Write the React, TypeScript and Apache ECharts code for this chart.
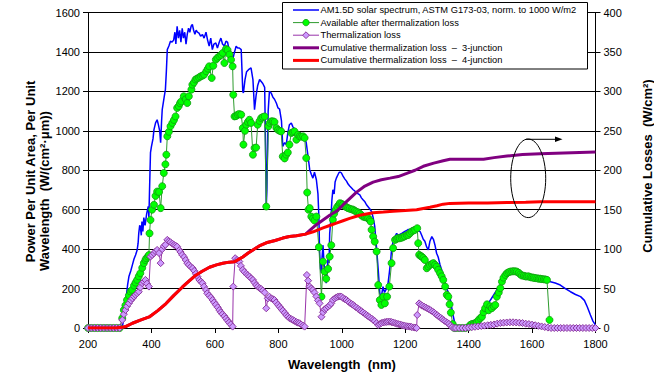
import React, { useEffect, useRef } from "react";
import * as echarts from "echarts";

// AM1.5D spectrum [wavelength nm, W/(cm2 um)]
const spectrum: number[][] = [
  [200, 0], [250, 0], [300, 0], [305, 0], [310, 20], [315, 80], [320, 150], [325, 220], [329, 261], [335, 290],
  [340, 320], [345, 350], [350, 370], [355, 396], [358, 430], [360, 480], [363, 520], [365, 515], [368, 470],
  [370, 540], [373, 490], [376, 560], [380, 520], [385, 580], [390, 616], [392, 560], [394, 700], [397, 889],
  [400, 920], [405, 960], [408, 1006], [413, 1040], [418, 1056], [422, 1030], [426, 1000], [429, 940],
  [432, 1050], [434, 1107], [440, 1170], [444, 1209], [447, 1300], [450, 1412], [455, 1430], [460, 1454],
  [465, 1450], [470, 1460], [474, 1500], [477, 1440], [481, 1530], [485, 1470], [489, 1510], [493, 1450],
  [497, 1520], [501, 1470], [505, 1500], [509, 1440], [513, 1490], [517, 1520], [521, 1500], [525, 1530],
  [529, 1539], [533, 1510], [537, 1490], [541, 1510], [545, 1500], [550, 1495], [555, 1480], [561, 1488],
  [566, 1470], [572, 1500], [577, 1460], [582, 1430], [587, 1470], [592, 1412], [597, 1440], [603, 1446],
  [608, 1420], [614, 1450], [619, 1470], [624, 1440], [630, 1430], [635, 1454], [640, 1450], [646, 1400],
  [651, 1380], [656, 1360], [662, 1400], [667, 1429], [672, 1420], [677, 1420], [683, 1412], [688, 1200],
  [690, 1192], [695, 1260], [700, 1300], [706, 1310], [714, 1319], [720, 1260], [725, 1107], [730, 1180],
  [735, 1230], [741, 1260], [746, 1250], [751, 1240], [757, 1220], [760, 900], [762, 616], [764, 700],
  [768, 1100], [772, 1200], [778, 1190], [783, 1170], [788, 1160], [794, 1140], [799, 1116], [804, 1110],
  [810, 1050], [814, 921], [820, 940], [825, 930], [830, 990], [835, 1031], [841, 1040], [846, 1020],
  [851, 1010], [857, 990], [862, 985], [867, 975], [872, 980], [878, 972], [883, 960], [888, 940], [893, 880],
  [899, 803], [904, 780], [909, 760], [914, 790], [920, 752], [925, 680], [928, 560], [930, 396], [933, 300],
  [936, 280], [938, 360], [941, 420], [944, 330], [947, 280], [951, 227], [954, 300], [957, 360], [960, 330],
  [962, 480], [966, 560], [969, 650], [972, 701], [976, 680], [979, 740], [983, 760], [988, 777], [992, 790],
  [996, 790], [999, 786], [1004, 770], [1010, 755], [1015, 745], [1020, 730], [1025, 720], [1031, 710],
  [1036, 701], [1041, 695], [1046, 688], [1052, 680], [1057, 675], [1062, 660], [1067, 650], [1073, 640],
  [1078, 625], [1083, 615], [1088, 605], [1094, 591], [1099, 560], [1104, 515], [1110, 400], [1115, 295],
  [1120, 176], [1125, 160], [1130, 210], [1135, 180], [1141, 200], [1146, 227], [1150, 280], [1154, 340],
  [1157, 396], [1162, 440], [1168, 464], [1173, 480], [1178, 470], [1183, 475], [1189, 480], [1194, 485],
  [1199, 490], [1205, 495], [1210, 500], [1215, 498], [1220, 505], [1226, 508], [1231, 510], [1236, 506],
  [1241, 495], [1247, 489], [1252, 470], [1257, 450], [1262, 440], [1268, 410], [1273, 396], [1278, 440],
  [1284, 464], [1289, 450], [1294, 420], [1299, 379], [1304, 360], [1310, 320], [1315, 295], [1320, 260],
  [1326, 230], [1331, 200], [1336, 180], [1341, 159], [1346, 110], [1352, 57], [1357, 20], [1362, 0],
  [1400, 0], [1420, 10], [1440, 50], [1460, 120], [1480, 170], [1500, 220], [1515, 270], [1531, 295],
  [1547, 292], [1563, 285], [1579, 270], [1595, 262], [1610, 256], [1626, 248], [1642, 242], [1658, 235],
  [1673, 228], [1689, 218], [1705, 200], [1721, 184], [1737, 170], [1753, 159], [1765, 140], [1774, 108],
  [1784, 66], [1792, 35], [1800, 15],
];

// Available after thermalization loss
const available: number[][] = [
  [200, 0], [210, 0], [220, 0], [230, 0], [240, 0], [250, 0], [260, 0], [270, 0], [280, 0], [290, 0], [300, 0],
  [308, 50], [313, 91], [318, 115], [323, 142], [329, 165], [334, 185], [339, 193], [345, 215], [350, 230],
  [355, 244], [360, 262], [365, 278], [371, 305], [376, 329], [381, 345], [384, 354], [389, 362], [392, 370],
  [394, 480], [397, 548], [402, 600], [408, 625], [413, 670], [418, 692], [424, 690], [429, 608], [434, 719],
  [439, 786], [444, 830], [447, 879], [450, 972], [455, 995], [460, 1023], [466, 1040], [471, 1055],
  [476, 1073], [481, 1116], [486, 1125], [490, 1140], [494, 1149], [502, 1175], [508, 1160], [513, 1141],
  [518, 1175], [526, 1209], [529, 1234], [534, 1245], [539, 1260], [544, 1265], [550, 1270], [555, 1276],
  [561, 1280], [566, 1285], [573, 1302], [578, 1315], [582, 1327], [590, 1268], [595, 1330], [603, 1361],
  [608, 1370], [614, 1378], [620, 1385], [625, 1395], [630, 1344], [635, 1415], [640, 1410], [646, 1387],
  [651, 1360], [656, 1327], [658, 1183], [662, 1073], [667, 1075], [672, 1082], [677, 1085], [683, 1082],
  [688, 1014], [690, 930], [695, 1000], [699, 1031], [704, 1045], [709, 1056], [714, 1040], [720, 879],
  [725, 913], [730, 915], [735, 1031], [741, 1050], [746, 1065], [751, 1070], [757, 1073], [762, 616],
  [769, 1023], [773, 1040], [778, 1048], [783, 1048], [788, 1045], [794, 1014], [799, 1005], [804, 1000],
  [809, 997], [814, 870], [820, 860], [825, 879], [830, 890], [835, 930], [841, 989], [846, 993], [851, 997],
  [857, 955], [862, 980], [867, 972], [872, 970], [878, 972], [883, 964], [888, 862], [891, 687], [895, 600],
  [899, 608], [904, 565], [909, 555], [914, 545], [920, 565], [928, 410], [936, 159], [941, 337], [946, 286],
  [951, 250], [957, 300], [962, 362], [967, 420], [972, 549], [976, 580], [981, 600], [986, 615], [991, 625],
  [994, 633], [999, 630], [1004, 625], [1010, 618], [1015, 612], [1020, 608], [1025, 605], [1031, 602],
  [1036, 600], [1041, 595], [1046, 590], [1052, 586], [1057, 580], [1062, 572], [1067, 565], [1073, 562],
  [1078, 560], [1083, 557], [1088, 548], [1091, 540], [1094, 498], [1099, 464], [1104, 438], [1110, 388],
  [1115, 218], [1120, 142], [1125, 117], [1131, 159], [1136, 125], [1143, 159], [1150, 210], [1157, 329],
  [1162, 405], [1168, 447], [1173, 452], [1178, 456], [1183, 455], [1189, 458], [1194, 462], [1199, 465],
  [1205, 470], [1210, 472], [1215, 480], [1220, 489], [1226, 494], [1231, 498], [1238, 506], [1241, 430],
  [1244, 371], [1249, 365], [1252, 362], [1257, 355], [1262, 345], [1268, 303], [1273, 312], [1278, 320],
  [1284, 325], [1289, 329], [1294, 320], [1299, 311], [1304, 295], [1310, 278], [1315, 262], [1320, 244],
  [1326, 210], [1331, 168], [1336, 159], [1340, 120], [1344, 78], [1350, 20], [1355, 0], [1360, 0], [1370, 0],
  [1380, 0], [1390, 0], [1400, 5], [1405, 15], [1410, 20], [1416, 22], [1421, 24], [1426, 30], [1431, 40],
  [1437, 50], [1442, 57], [1447, 80], [1452, 100], [1458, 120], [1463, 90], [1468, 110], [1473, 100],
  [1479, 110], [1484, 117], [1489, 159], [1495, 180], [1500, 202], [1505, 235], [1510, 255], [1516, 269],
  [1521, 278], [1526, 283], [1531, 286], [1537, 287], [1542, 288], [1547, 287], [1552, 286], [1558, 280],
  [1563, 272], [1568, 266], [1574, 265], [1579, 262], [1584, 261], [1589, 262], [1595, 258], [1600, 256],
  [1605, 255], [1610, 253], [1616, 252], [1621, 250], [1626, 250], [1631, 248], [1637, 247], [1642, 246],
  [1647, 244], [1655, 41],
];

// Thermalization loss
const thermalization: number[][] = [
  [200, 0], [210, 0], [220, 0], [230, 0], [240, 0], [250, 0], [260, 0], [270, 0], [280, 0], [290, 0], [300, 0],
  [308, 41], [313, 70], [318, 91], [323, 110], [329, 125], [335, 140], [340, 150], [345, 160], [350, 168],
  [355, 176], [360, 184], [365, 205], [371, 227], [376, 235], [381, 244], [386, 225], [392, 210], [397, 362],
  [402, 370], [408, 379], [413, 388], [418, 396], [424, 380], [429, 329], [434, 400], [439, 415], [444, 422],
  [450, 447], [455, 440], [460, 435], [466, 428], [471, 422], [476, 418], [481, 413], [488, 395], [492, 385],
  [497, 371], [503, 360], [508, 345], [513, 329], [518, 320], [524, 310], [530, 303], [535, 290], [540, 275],
  [545, 261], [551, 244], [556, 235], [561, 227], [566, 210], [572, 193], [576, 176], [582, 165], [587, 155],
  [593, 142], [598, 130], [603, 118], [609, 105], [614, 91], [619, 80], [624, 70], [630, 60], [635, 49],
  [640, 38], [645, 28], [650, 18], [656, 7], [658, 210], [664, 354], [670, 345], [677, 337], [682, 315],
  [688, 295], [693, 285], [699, 275], [704, 268], [709, 261], [714, 252], [720, 244], [725, 230], [730, 218],
  [735, 210], [741, 202], [746, 198], [751, 190], [757, 180], [762, 100], [767, 150], [772, 159], [778, 150],
  [783, 146], [788, 142], [793, 130], [799, 118], [804, 108], [809, 98], [814, 88], [820, 77], [825, 66],
  [830, 58], [835, 50], [841, 45], [846, 41], [851, 36], [857, 30], [862, 27], [867, 24], [872, 18], [878, 12],
  [883, 7], [890, 269], [894, 240], [899, 210], [904, 200], [909, 193], [914, 180], [920, 160], [925, 140],
  [930, 125], [936, 57], [941, 80], [946, 95], [951, 100], [957, 108], [962, 115], [967, 125], [972, 142],
  [978, 150], [983, 155], [988, 159], [994, 160], [999, 159], [1004, 152], [1010, 146], [1015, 142],
  [1020, 135], [1025, 128], [1031, 122], [1036, 117], [1041, 110], [1046, 104], [1052, 97], [1057, 91],
  [1062, 85], [1067, 79], [1073, 72], [1078, 66], [1083, 60], [1088, 54], [1094, 48], [1099, 41], [1104, 35],
  [1110, 25], [1115, 15], [1120, 20], [1125, 25], [1131, 28], [1136, 30], [1141, 31], [1146, 32], [1152, 32],
  [1157, 30], [1162, 28], [1168, 25], [1173, 22], [1178, 20], [1183, 18], [1189, 15], [1194, 13], [1199, 11],
  [1205, 9], [1210, 8], [1215, 7], [1220, 5], [1226, 3], [1231, 2], [1236, 0], [1238, 66], [1244, 125],
  [1249, 118], [1254, 113], [1260, 108], [1265, 104], [1270, 99], [1275, 95], [1280, 90], [1286, 84],
  [1291, 78], [1296, 71], [1301, 65], [1306, 58], [1312, 52], [1317, 45], [1322, 39], [1327, 33], [1333, 27],
  [1338, 21], [1343, 12], [1348, 4], [1354, 0], [1360, 0], [1370, 0], [1380, 0], [1390, 0], [1400, 2],
  [1410, 4], [1420, 6], [1430, 8], [1440, 10], [1450, 12], [1460, 14], [1470, 16], [1480, 18], [1490, 22],
  [1500, 25], [1510, 27], [1520, 28], [1530, 29], [1540, 29], [1550, 28], [1560, 27], [1570, 25], [1580, 22],
  [1590, 20], [1600, 17], [1610, 14], [1620, 11], [1630, 8], [1640, 5], [1650, 2], [1660, 0], [1670, 0],
  [1680, 0], [1690, 0], [1700, 0], [1710, 0], [1720, 0], [1730, 0], [1740, 0], [1750, 0], [1760, 0],
  [1770, 0], [1780, 0], [1790, 0], [1800, 0],
];

// Cumulative thermalization loss, 3-junction (W/cm2, right axis)
const cumulative3: number[][] = [
  [200, 0], [290, 0], [300, 0.5], [320, 2], [340, 6], [365, 10], [393, 14], [420, 22], [446, 31], [470, 41],
  [498, 52], [520, 60], [540, 67], [560, 72], [583, 77], [605, 80], [625, 82], [645, 83.5], [662, 84],
  [675, 87], [688, 90], [705, 95], [720, 99], [740, 104], [762, 108], [790, 111], [814, 114], [835, 116],
  [857, 117], [886, 119], [900, 124], [920, 131], [941, 137], [962, 143], [983, 148], [994, 152], [1004, 156],
  [1025, 164], [1046, 172], [1073, 180], [1099, 185], [1125, 188], [1152, 190], [1178, 192], [1205, 196],
  [1231, 200], [1257, 205], [1290, 209], [1320, 212], [1341, 214], [1400, 214], [1447, 214], [1480, 216],
  [1521, 218], [1570, 220], [1626, 221], [1700, 222], [1800, 223],
];

// Cumulative thermalization loss, 4-junction (W/cm2, right axis)
const cumulative4: number[][] = [
  [200, 0], [290, 0], [300, 0.5], [320, 2], [340, 6], [365, 10], [393, 14], [420, 22], [446, 31], [470, 41],
  [498, 52], [520, 60], [540, 67], [560, 72], [583, 77], [605, 80], [625, 82], [645, 83.5], [662, 84],
  [675, 87], [688, 90], [705, 95], [720, 99], [740, 104], [762, 108], [790, 111], [814, 114], [835, 116],
  [857, 117], [886, 119], [910, 122], [941, 127], [962, 130], [983, 133], [1004, 136], [1025, 139],
  [1057, 143], [1099, 146], [1131, 147], [1162, 148], [1200, 149], [1236, 150], [1257, 151.5], [1278, 153],
  [1300, 155], [1320, 157], [1341, 158], [1400, 158.5], [1460, 158.5], [1521, 159], [1580, 159.5],
  [1626, 160], [1700, 160], [1800, 160],
];

const seriesNames = [
  "AM1.5D solar spectrum, ASTM G173-03, norm. to 1000 W/m2",
  "Available after thermalization loss",
  "Thermalization loss",
  "Cumulative thermalization loss  \u2013  3-junction",
  "Cumulative thermalization loss  \u2013  4-junction",
];

const FONT = "'Liberation Sans', Arial, sans-serif";

const BLUE = "#0000FF";
const GREEN_LINE = "#2E9B2E";
const GREEN_FILL = "#00FF00";
const GREEN_EDGE = "#129A12";
const VIOLET_LINE = "#9933AA";
const VIOLET_FILL = "#CC99FF";
const VIOLET_EDGE = "#8E3A9E";
const PURPLE = "#800080";
const RED = "#FF0000";

function legendGraphics(): any[] {
  const rows = [10, 22.6, 35.2, 47.8, 60.4];
  const lx1 = 293;
  const lx2 = 319;
  const cx = (lx1 + lx2) / 2;
  const lineStyles = [
    { stroke: BLUE, lineWidth: 1.5 },
    { stroke: GREEN_LINE, lineWidth: 1 },
    { stroke: VIOLET_LINE, lineWidth: 1 },
    { stroke: PURPLE, lineWidth: 3 },
    { stroke: RED, lineWidth: 3 },
  ];
  const out: any[] = [
    {
      type: "rect",
      shape: { x: 282.5, y: 2.5, width: 305, height: 66.5 },
      style: { fill: "#fff", stroke: "#000", lineWidth: 1 },
      z: 20,
    },
  ];
  rows.forEach((y, i) => {
    out.push({
      type: "line",
      shape: { x1: lx1, y1: y, x2: lx2, y2: y },
      style: lineStyles[i],
      z: 21,
    });
    if (i === 1) {
      out.push({
        type: "circle",
        shape: { cx, cy: y, r: 3.2 },
        style: { fill: GREEN_FILL, stroke: GREEN_EDGE, lineWidth: 0.8 },
        z: 22,
      });
    }
    if (i === 2) {
      out.push({
        type: "polygon",
        shape: { points: [[cx, y - 3.4], [cx + 3.4, y], [cx, y + 3.4], [cx - 3.4, y]] },
        style: { fill: VIOLET_FILL, stroke: VIOLET_EDGE, lineWidth: 1 },
        z: 22,
      });
    }
    out.push({
      type: "text",
      x: 320.5,
      y,
      style: {
        text: seriesNames[i],
        fontSize: 9.3,
        fontFamily: FONT,
        fill: "#000",
        align: "left",
        verticalAlign: "middle",
      },
      z: 22,
    });
  });
  return out;
}

export default function App() {
  const ref = useRef<HTMLDivElement>(null);

  useEffect(() => {
    if (!ref.current) return;
    const chart = echarts.init(ref.current, undefined, { renderer: "svg" });
    const plain = (v: number) => String(v);
    const option: any = {
      animation: false,
      backgroundColor: "#fff",
      textStyle: { fontFamily: FONT },
      grid: { left: 88, right: 58.5, top: 12.5, bottom: 46 },
      legend: { show: false },
      xAxis: {
        type: "value",
        min: 200,
        max: 1800,
        interval: 200,
        axisLine: { show: true, lineStyle: { color: "#000", width: 1 } },
        axisTick: { show: true, length: 5, lineStyle: { color: "#000" } },
        axisLabel: { fontSize: 11, color: "#000", margin: 10, fontFamily: FONT, formatter: plain },
        splitLine: { show: false },
      },
      yAxis: [
        {
          type: "value",
          min: 0,
          max: 1600,
          interval: 200,
          position: "left",
          axisLine: { show: true, lineStyle: { color: "#000", width: 1 } },
          axisTick: { show: true, length: 5, lineStyle: { color: "#000" } },
          axisLabel: { fontSize: 11, color: "#000", margin: 8, fontFamily: FONT, formatter: plain },
          splitLine: { show: true, lineStyle: { color: "#000", width: 1 } },
        },
        {
          type: "value",
          min: 0,
          max: 400,
          interval: 50,
          position: "right",
          axisLine: { show: true, lineStyle: { color: "#000", width: 1 } },
          axisTick: { show: true, length: 5, lineStyle: { color: "#000" } },
          axisLabel: { fontSize: 11, color: "#000", margin: 8, fontFamily: FONT, formatter: plain },
          splitLine: { show: false },
        },
        {
          type: "value",
          min: 0,
          max: 400,
          interval: 50,
          position: "right",
          axisLine: { show: false },
          axisTick: { show: true, inside: true, length: 5, lineStyle: { color: "#000" } },
          axisLabel: { show: false },
          splitLine: { show: false },
        },
      ],
      series: [
        {
          name: seriesNames[0],
          type: "line",
          yAxisIndex: 0,
          data: spectrum,
          showSymbol: false,
          symbol: "none",
          lineStyle: { color: BLUE, width: 1.5 },
          itemStyle: { color: BLUE },
          z: 2,
        },
        {
          name: seriesNames[1],
          type: "line",
          yAxisIndex: 0,
          data: available,
          symbol: "circle",
          symbolSize: 7,
          showSymbol: true,
          lineStyle: { color: GREEN_LINE, width: 1 },
          itemStyle: { color: GREEN_FILL, borderColor: GREEN_EDGE, borderWidth: 0.8 },
          z: 3,
        },
        {
          name: seriesNames[2],
          type: "line",
          yAxisIndex: 0,
          data: thermalization,
          symbol: "diamond",
          symbolSize: 7,
          showSymbol: true,
          lineStyle: { color: VIOLET_LINE, width: 1 },
          itemStyle: { color: VIOLET_FILL, borderColor: VIOLET_EDGE, borderWidth: 1 },
          z: 4,
        },
        {
          name: seriesNames[3],
          type: "line",
          yAxisIndex: 1,
          data: cumulative3,
          showSymbol: false,
          symbol: "none",
          lineStyle: { color: PURPLE, width: 3 },
          itemStyle: { color: PURPLE },
          z: 5,
        },
        {
          name: seriesNames[4],
          type: "line",
          yAxisIndex: 1,
          data: cumulative4,
          showSymbol: false,
          symbol: "none",
          lineStyle: { color: RED, width: 3 },
          itemStyle: { color: RED },
          z: 6,
        },
      ],
      graphic: [
        {
          type: "text",
          x: 30,
          y: 171.5,
          rotation: Math.PI / 2,
          style: {
            text: "Power Per Unit Area, Per Unit",
            fontSize: 13,
            fontWeight: "bold",
            fontFamily: FONT,
            fill: "#000",
            align: "center",
            verticalAlign: "middle",
          },
        },
        {
          type: "text",
          x: 44,
          y: 191,
          rotation: Math.PI / 2,
          style: {
            text: "Wavelength  (W/(cm\u00B2\u00B7\u03BCm))",
            fontSize: 13,
            fontWeight: "bold",
            fontFamily: FONT,
            fill: "#000",
            align: "center",
            verticalAlign: "middle",
          },
        },
        {
          type: "text",
          x: 647,
          y: 166,
          rotation: Math.PI / 2,
          style: {
            text: "Cumulative Losses  (W/cm\u00B2)",
            fontSize: 13,
            fontWeight: "bold",
            fontFamily: FONT,
            fill: "#000",
            align: "center",
            verticalAlign: "middle",
          },
        },
        {
          type: "text",
          x: 342,
          y: 364,
          style: {
            text: "Wavelength  (nm)",
            fontSize: 13,
            fontWeight: "bold",
            fontFamily: FONT,
            fill: "#000",
            align: "center",
            verticalAlign: "middle",
          },
        },
        {
          type: "ellipse",
          shape: { cx: 528.2, cy: 178.3, rx: 17.5, ry: 39.3 },
          style: { fill: "none", stroke: "#000", lineWidth: 1 },
          z: 10,
        },
        {
          type: "line",
          shape: { x1: 526, y1: 139.3, x2: 558, y2: 139.3 },
          style: { stroke: "#000", lineWidth: 1 },
          z: 10,
        },
        {
          type: "polygon",
          shape: { points: [[555, 136.5], [562.5, 139.3], [555, 142.1]] },
          style: { fill: "#000" },
          z: 10,
        },
        ...legendGraphics(),
      ],
    };
    chart.setOption(option);
    return () => chart.dispose();
  }, []);

  return (
    <div
      ref={ref}
      style={{ position: "fixed", left: 0, top: 0, width: 654, height: 374, background: "#fff" }}
    />
  );
}
